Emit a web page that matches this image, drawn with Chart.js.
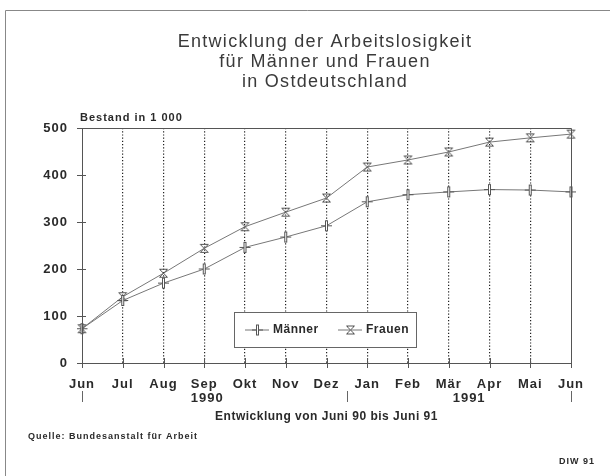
<!DOCTYPE html>
<html>
<head>
<meta charset="utf-8">
<script src="https://cdn.jsdelivr.net/npm/chart.js@4"></script>
<style>
  html, body { margin: 0; padding: 0; background: #fff; }
  #wrap { width: 610px; height: 476px; position: relative; }
</style>
</head>
<body>
<div id="wrap"><canvas id="arbeitslosChart" width="610" height="476"></canvas></div>
<script>
const months = ['Jun', 'Jul', 'Aug', 'Sep', 'Okt', 'Nov', 'Dez', 'Jan', 'Feb', 'Mär', 'Apr', 'Mai', 'Jun'];
const maenner = [73, 133, 170, 200, 246, 268, 292, 343, 358, 364, 369, 368, 364];
const frauen = [73, 141, 191, 244, 290, 321, 351, 417, 432, 449, 470, 479, 487];
const yTicks = [0, 100, 200, 300, 400, 500];
const titleLines = ['Entwicklung der Arbeitslosigkeit', 'für Männer und Frauen', 'in Ostdeutschland'];

const LINE = '#777';
const INK = '#2a2a2a';
const FONT = '"Liberation Sans", Arial, sans-serif';

// marker glyphs as small canvases
const makeMarker = (draw) => {
  const c = document.createElement('canvas');
  c.width = 13;
  c.height = 13;
  const g = c.getContext('2d');
  g.strokeStyle = '#555';
  g.lineWidth = 1;
  draw(g);
  return c;
};

const plusMarker = makeMarker((g) => {
  g.beginPath();
  g.moveTo(1, 6.5); g.lineTo(12, 6.5);
  g.stroke();
  g.fillStyle = '#fff';
  g.fillRect(5, 1.5, 3, 10);
  g.strokeRect(5.5, 1.5, 2, 10);
});

const hourglassMarker = makeMarker((g) => {
  g.beginPath();
  g.moveTo(2.5, 2.5); g.lineTo(10.5, 2.5);
  g.lineTo(2.5, 10.5); g.lineTo(10.5, 10.5);
  g.lineTo(2.5, 2.5);
  g.stroke();
});

const spacingPlugin = {
  id: 'spacingPlugin',
  beforeDraw(chart) {
    chart.ctx.letterSpacing = '1px';
  }
};

const textPlugin = {
  id: 'textPlugin',
  afterDraw(chart) {
    const { ctx, chartArea: a, scales } = chart;
    const x = scales.x;
    const y = scales.y;
    ctx.save();

    // outer frame (top and left edges)
    ctx.strokeStyle = '#888';
    ctx.lineWidth = 1;
    ctx.beginPath();
    ctx.moveTo(5.5, 476);
    ctx.lineTo(5.5, 10.5);
    ctx.lineTo(610, 10.5);
    ctx.stroke();

    // plot frame
    ctx.strokeStyle = '#555';
    ctx.beginPath();
    ctx.rect(a.left + 0.5, a.top + 0.5, a.right - a.left, a.bottom - a.top);
    ctx.stroke();

    // tick marks crossing the axes
    ctx.beginPath();
    yTicks.forEach((v) => {
      const py = Math.round(y.getPixelForValue(v)) + 0.5;
      ctx.moveTo(a.left - 5, py);
      ctx.lineTo(a.left + 4, py);
    });
    months.forEach((m, i) => {
      const px = Math.round(x.getPixelForValue(i)) + 0.5;
      ctx.moveTo(px, a.bottom - 5);
      ctx.lineTo(px, a.bottom + 5);
    });
    ctx.stroke();

    // title
    ctx.fillStyle = '#3a3a3a';
    ctx.textAlign = 'center';
    ctx.textBaseline = 'middle';
    ctx.font = '18px ' + FONT;
    ctx.letterSpacing = '1.3px';
    titleLines.forEach((t, i) => ctx.fillText(t, 325, 42 + i * 20));

    ctx.fillStyle = INK;
    ctx.letterSpacing = '1px';
    ctx.font = 'bold 11px ' + FONT;
    ctx.textAlign = 'left';
    ctx.fillText('Bestand in 1 000', 80, 118);

    // years and separators
    ctx.font = 'bold 13px ' + FONT;
    ctx.textAlign = 'center';
    ctx.fillText('1990', x.getPixelForValue(3) + 3, 398);
    ctx.fillText('1991', (x.getPixelForValue(9) + x.getPixelForValue(10)) / 2, 398);
    ctx.strokeStyle = '#666';
    ctx.beginPath();
    [0, 6.5, 12].forEach((i) => {
      const px = Math.round(x.getPixelForValue(i)) + 0.5;
      ctx.moveTo(px, 391);
      ctx.lineTo(px, 402);
    });
    ctx.stroke();

    ctx.letterSpacing = '0.5px';
    ctx.font = 'bold 12px ' + FONT;
    ctx.fillText('Entwicklung von Juni 90 bis Juni 91', (a.left + a.right) / 2, 417);

    ctx.letterSpacing = '1px';
    ctx.font = 'bold 9px ' + FONT;
    ctx.textAlign = 'left';
    ctx.fillText('Quelle: Bundesanstalt für Arbeit', 28, 437);
    ctx.textAlign = 'right';
    ctx.fillText('DIW 91', 595, 462);

    // legend box
    const lx = 234, ly = 312, lw = 182, lh = 35;
    ctx.fillStyle = '#fff';
    ctx.fillRect(lx, ly, lw, lh);
    ctx.strokeStyle = '#666';
    ctx.strokeRect(lx + 0.5, ly + 0.5, lw, lh);
    const my = ly + lh / 2 + 0.5;
    ctx.letterSpacing = '0.5px';
    [['Männer', plusMarker, 245], ['Frauen', hourglassMarker, 338]].forEach(([label, mk, sx]) => {
      ctx.strokeStyle = LINE;
      ctx.beginPath();
      ctx.moveTo(sx, my);
      ctx.lineTo(sx + 24, my);
      ctx.stroke();
      ctx.drawImage(mk, sx + 6, my - 6.5);
      ctx.fillStyle = INK;
      ctx.font = 'bold 12px ' + FONT;
      ctx.textAlign = 'left';
      ctx.fillText(label, sx + 28, my);
    });

    ctx.restore();
  }
};

new Chart(document.getElementById('arbeitslosChart'), {
  type: 'line',
  data: {
    labels: months,
    datasets: [
      {
        label: 'Männer',
        data: maenner,
        borderColor: LINE,
        borderWidth: 1,
        pointStyle: plusMarker,
        tension: 0
      },
      {
        label: 'Frauen',
        data: frauen,
        borderColor: LINE,
        borderWidth: 1,
        pointStyle: hourglassMarker,
        tension: 0
      }
    ]
  },
  options: {
    responsive: false,
    animation: false,
    layout: { padding: { left: 0, top: 128, right: 39, bottom: 0 } },
    scales: {
      x: {
        offset: false,
        afterFit: (s) => { s.height = 113; },
        grid: {
          drawTicks: false,
          color: (c) => (c.index === 0 || c.index === months.length - 1 ? 'rgba(0,0,0,0)' : '#222'),
          lineWidth: 1.2
        },
        border: { display: false, dash: [1.2, 2] },
        ticks: {
          padding: 14,
          color: INK,
          font: { family: FONT, size: 13, weight: 'bold' },
          maxRotation: 0,
          autoSkip: false
        }
      },
      y: {
        min: 0,
        max: 500,
        afterFit: (s) => { s.width = 82; },
        afterBuildTicks: (s) => { s.ticks = yTicks.map((v) => ({ value: v })); },
        grid: { display: false, drawTicks: false },
        border: { display: false },
        ticks: {
          padding: 14,
          color: INK,
          font: { family: FONT, size: 13, weight: 'bold' }
        }
      }
    },
    plugins: {
      legend: { display: false },
      tooltip: { enabled: false }
    }
  },
  plugins: [spacingPlugin, textPlugin]
});
</script>
</body>
</html>
